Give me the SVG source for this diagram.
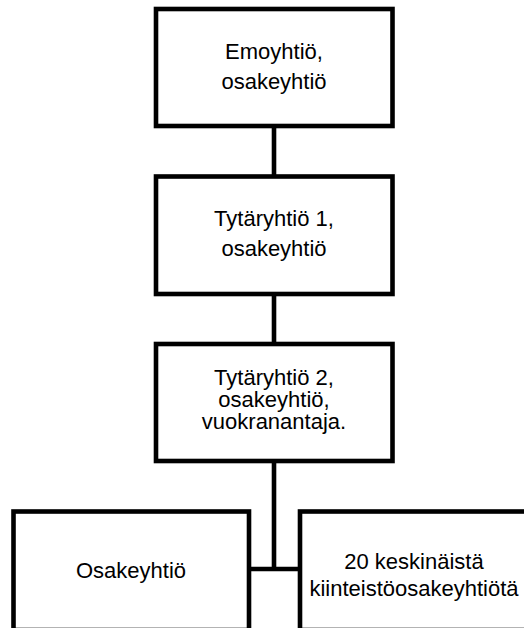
<svg xmlns="http://www.w3.org/2000/svg" width="524" height="628" viewBox="0 0 524 628">
<style>
.box{fill:#fff;stroke:#000;stroke-width:4.6;stroke-linejoin:miter}
.conn{stroke:#000;stroke-width:4.6;fill:none}
text{font-family:"Liberation Sans",Arial,sans-serif;font-size:22px;fill:#000;text-anchor:middle}
</style>
<rect width="524" height="628" fill="#fff"/>
<g id="connectors">
<line class="conn" x1="274" y1="126" x2="274" y2="176.5"/>
<line class="conn" x1="274" y1="294" x2="274" y2="344"/>
<line class="conn" x1="274" y1="461" x2="274" y2="569"/>
<line class="conn" x1="249" y1="569" x2="300" y2="569"/>
</g>
<g id="node1">
<rect class="box" x="156" y="9" width="236.5" height="117"/>
<text x="274" y="59">Emoyhtiö,</text>
<text x="274" y="88.5">osakeyhtiö</text>
</g>
<g id="node2">
<rect class="box" x="156" y="176.5" width="236.5" height="117.5"/>
<text x="274" y="225.5">Tytäryhtiö 1,</text>
<text x="274" y="255.5">osakeyhtiö</text>
</g>
<g id="node3">
<rect class="box" x="156" y="344" width="236.5" height="117"/>
<text x="274" y="385">Tytäryhtiö 2,</text>
<text x="274" y="406.5">osakeyhtiö,</text>
<text x="274" y="428.5">vuokranantaja.</text>
</g>
<g id="node4">
<rect class="box" x="13.5" y="511.5" width="235.5" height="118.5"/>
<text x="131" y="577.5">Osakeyhtiö</text>
</g>
<g id="node5">
<rect class="box" x="300" y="511.5" width="230" height="118.5"/>
<text x="414" y="568.5">20 keskinäistä</text>
<text x="414" y="595.5">kiinteistöosakeyhtiötä</text>
</g>
</svg>
